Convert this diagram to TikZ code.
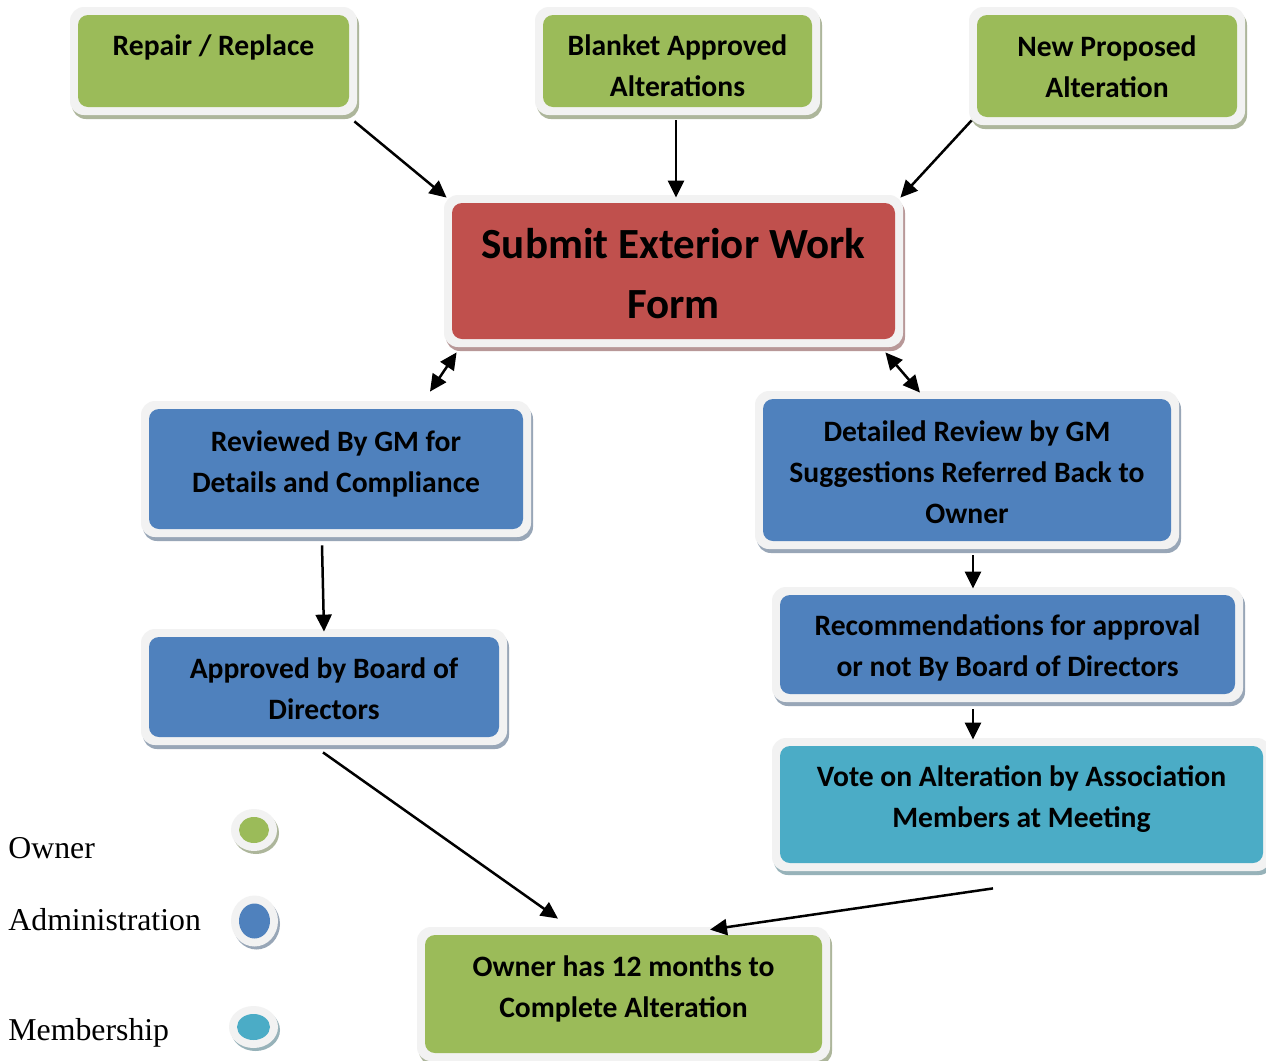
\documentclass[tikz,border=0pt]{standalone}
\usepackage{fontspec}
\setmainfont{Carlito}
\newfontfamily\legfont{Liberation Serif}
\usetikzlibrary{arrows.meta,shadows,shapes.geometric,calc}
\definecolor{cgreen}{RGB}{155,187,89}
\definecolor{cred}{RGB}{192,80,77}
\definecolor{cblue}{RGB}{79,129,189}
\definecolor{cteal}{RGB}{75,172,198}
\definecolor{cframe}{RGB}{242,242,242}
\begin{document}
\begin{tikzpicture}[x=0.5pt,y=-0.5pt,
  box/.style={rectangle, rounded corners=7pt, fill=cframe, inner sep=0pt, align=center,
    font=\bfseries\fontsize{14.8}{20.5}\selectfont, text depth=0pt,
    drop shadow={shadow xshift=1pt, shadow yshift=-2pt, opacity=1, fill=#1!40!gray!70!white},
    path picture={\fill[#1, rounded corners=5pt] ([shift={(4pt,4pt)}]path picture bounding box.south west) rectangle ([shift={(-4pt,-4pt)}]path picture bounding box.north east);}},
  legdot/.style={ellipse, fill=cframe, inner sep=0pt,
    drop shadow={shadow xshift=1pt, shadow yshift=-1.5pt, opacity=1, fill=#1!40!gray!70!white},
    path picture={\fill[#1] let \p1=(path picture bounding box.south west), \p2=(path picture bounding box.north east) in (path picture bounding box.center) ellipse [x radius={(\x2-\x1)/2-4pt}, y radius={(\y2-\y1)/2-4pt}];}},
  legtxt/.style={anchor=base west, inner sep=0pt, font=\legfont\fontsize{15.9}{18}\selectfont},
  arr/.style={line width=1.25pt, -{Triangle[length=8.5pt,width=8pt]}},
  dbl/.style={line width=1.25pt, {Triangle[length=8.5pt,width=8pt]}-{Triangle[length=8.5pt,width=8pt]}}
]
\useasboundingbox (0,0) rectangle (1266,1061);
\fill[white] (0,0) rectangle (1266,1061);

\node[box=cgreen, minimum width=143.5pt, minimum height=54pt, text height=9.5pt, text depth=15pt] (rep) at (213.5,61) {Repair / Replace};
\node[box=cgreen, minimum width=142.5pt, minimum height=54pt, text height=35.5pt] (blank) at (677.5,61) {Blanket Approved\\Alterations};
\node[box=cgreen, minimum width=138pt, minimum height=59pt, text height=31.5pt] (new) at (1107,66) {New Proposed\\Alteration};
\node[box=cred, minimum width=229.5pt, minimum height=76pt, font=\bfseries\fontsize{21.5}{30}\selectfont, text height=47.8pt] (sub) at (673.5,271) {Submit Exterior Work\\Form};
\node[box=cblue, minimum width=195pt, minimum height=68pt, text height=30pt, text depth=7pt] (rev) at (336,469) {Reviewed By GM for\\Details and Compliance};
\node[box=cblue, minimum width=212pt, minimum height=79pt, text height=53.5pt] (det) at (967,470) {Detailed Review by GM\\Suggestions Referred Back to\\Owner};
\node[box=cblue, minimum width=183pt, minimum height=58pt, text height=32.5pt] (app) at (324,687) {Approved by Board of\\Directors};
\node[box=cblue, minimum width=235.5pt, minimum height=57.5pt, text height=32pt] (rec) at (1007.5,644.5) {Recommendations for approval\\or not By Board of Directors};
\node[box=cteal, minimum width=249.5pt, minimum height=66.5pt, text height=30pt, text depth=7pt] (vote) at (1021.5,804.5) {Vote on Alteration by Association\\Members at Meeting};
\node[box=cgreen, minimum width=206.5pt, minimum height=67pt, text height=30pt, text depth=6.5pt] (own) at (623.5,994) {Owner has 12 months to\\Complete Alteration};

\node[legtxt] (l1) at (8,858) {Owner};
\node[legtxt] (l2) at (8,930) {Administration};
\node[legtxt] (l3) at (8,1040) {Membership};
\node[legdot=cgreen, minimum width=23pt, minimum height=21pt] (d1) at (254,830) {};
\node[legdot=cblue, minimum width=23.5pt, minimum height=25.5pt] (d2) at (254.5,921) {};
\node[legdot=cteal, minimum width=24.5pt, minimum height=21pt] (d3) at (253.5,1027) {};

\draw[arr] ([shift={(-3,6)}]rep.south east) -- ([shift={(3,3)}]sub.north west);
\draw[arr] ([shift={(-1.5,5)}]blank.south) -- ([shift={(2.5,3)}]sub.north);
\draw[arr] ([shift={(3,-5)}]new.south west) -- ([shift={(-3,3)}]sub.north east);
\draw[dbl] ([shift={(13,5)}]sub.south west) -- ([shift={(94,-9)}]rev.north);
\draw[dbl] ([shift={(-18,5)}]sub.south east) -- ([shift={(-47,2)}]det.north);
\draw[arr] ([shift={(-14,8)}]rev.south) -- ([shift={(0,3)}]app.north);
\draw[arr] ([shift={(6,6)}]det.south) -- ([shift={(-34.5,2)}]rec.north);
\draw[arr] ([shift={(-34.5,7)}]rec.south) -- ([shift={(-48.5,2)}]vote.north);
\draw[arr] ([shift={(-1,7)}]app.south) -- ([shift={(-65.5,-8)}]own.north);
\draw[arr] ([shift={(-28.5,17)}]vote.south) -- ([shift={(86.5,3)}]own.north);
\end{tikzpicture}
\end{document}
